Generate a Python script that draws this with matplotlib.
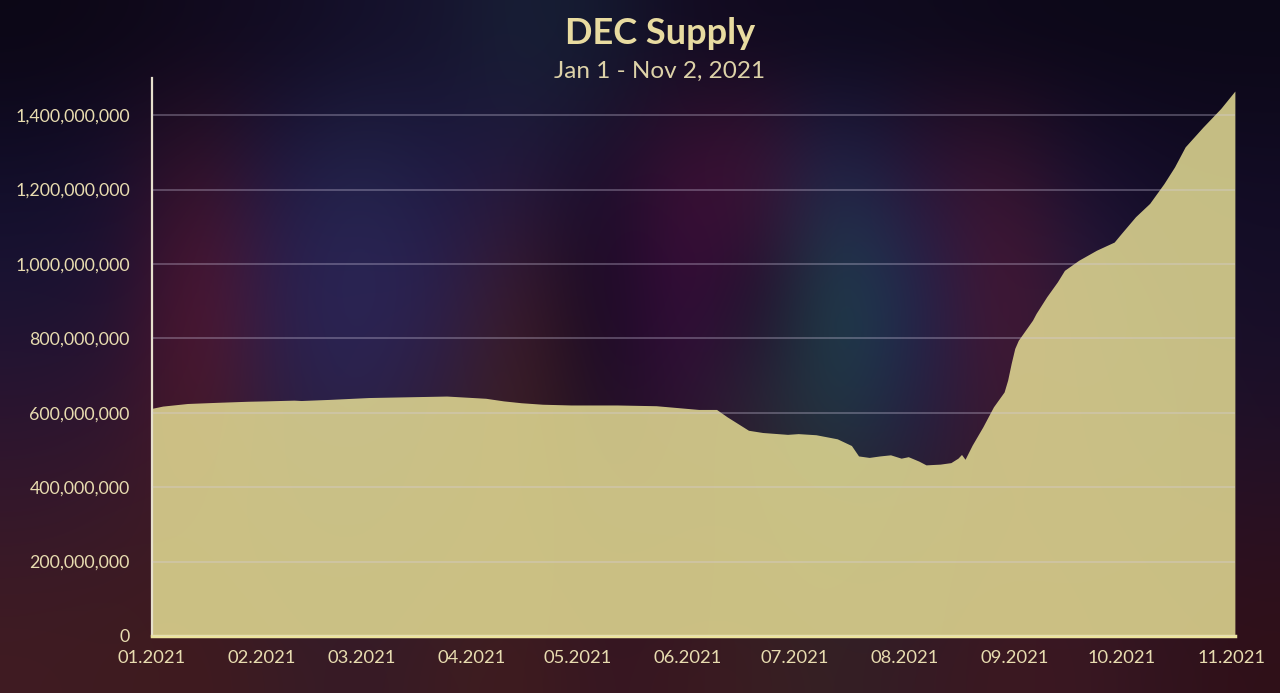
import numpy as np
import pandas as pd
import matplotlib
matplotlib.use("Agg")
import matplotlib.pyplot as plt
import matplotlib.dates as mdates
from matplotlib.ticker import FuncFormatter, MultipleLocator

# ---- data ----
day_offset = [0, 3, 10, 18, 27, 32, 40, 42, 50, 61, 72, 83, 94, 99, 104, 110, 118,
              131, 142, 154, 159, 162, 165, 168, 172, 179, 182, 187, 193, 197, 199,
              202, 205, 208, 211, 213, 216, 218, 222, 225, 227, 228, 229, 231, 234,
              237, 240, 241, 242, 243, 244, 248, 249, 252, 255, 257, 261, 266, 271,
              273, 277, 281, 285, 288, 291, 296, 301, 305]
supply_millions = [612, 618, 625, 628, 631, 632, 634, 633, 636, 641, 643, 645, 639, 632,
                   627, 623, 621, 621, 619, 609, 609, 589, 571, 553, 547, 542, 544, 541,
                   530, 512, 484, 480, 484, 487, 478, 482, 470, 460, 462, 466, 478, 488,
                   475, 513, 562, 616, 656, 688, 733, 773, 795, 849, 867, 912, 952, 983,
                   1010, 1037, 1059, 1082, 1127, 1163, 1216, 1261, 1315, 1368, 1418, 1465]
month_ticks = ["2021-01-01", "2021-02-01", "2021-03-01", "2021-04-01", "2021-05-01",
               "2021-06-01", "2021-07-01", "2021-08-01", "2021-09-01", "2021-10-01",
               "2021-11-01"]
title_text = "DEC Supply"
subtitle_text = "Jan 1 - Nov 2, 2021"

dates = pd.Timestamp("2021-01-01") + pd.to_timedelta(day_offset, unit="D")
values = np.array(supply_millions) * 1e6

fig = plt.figure(figsize=(12.8, 6.93), dpi=100)

# ---- decorative blurred background ----
bg_rows = [
    ["#0c0716", "#0e0818", "#100a1e", "#120c22", "#14102a", "#16142e", "#182036", "#141a30", "#120c22", "#100a1e", "#0e0a1e", "#0e0a1c", "#0c081a", "#0c0818", "#0c0818", "#0c0818"],
    ["#120e2a", "#1a1030", "#3a1228", "#201a44", "#24264c", "#1e1a44", "#241840", "#1c0e2c", "#3e1034", "#46163a", "#1e2650", "#301438", "#3a1530", "#1a1030", "#140c28", "#120c24"],
    ["#1a1434", "#201232", "#581530", "#2a2050", "#2c2658", "#2a2050", "#3e1a2a", "#140822", "#3a0c3e", "#1a0a26", "#20484e", "#1e2250", "#4c1530", "#2a1a3c", "#181230", "#160e28"],
    ["#2a1430", "#301530", "#501828", "#2a1e44", "#2a2450", "#301c3c", "#402020", "#1c0e26", "#301034", "#2a2838", "#1e3a48", "#221e44", "#401830", "#301a34", "#201430", "#1e1028"],
    ["#36182a", "#3a1a28", "#3c1a24", "#301c30", "#2c1c34", "#34202a", "#3a2024", "#2a1426", "#2e1424", "#2e2026", "#2a2630", "#2a1c30", "#381828", "#34182a", "#2c1428", "#2a1022"],
    ["#401c22", "#3e1c20", "#401a1e", "#3a1c24", "#361a26", "#3c1c22", "#401c1e", "#361622", "#3a1820", "#3a1e22", "#342024", "#361a24", "#3c1820", "#3a1822", "#32141e", "#301018"],
]
bg = np.array([[matplotlib.colors.to_rgb(c) for c in row] for row in bg_rows])
bg_ax = fig.add_axes([0, 0, 1, 1], zorder=-10)
bg_ax.imshow(bg, aspect="auto", interpolation="bicubic", extent=[0, 1, 0, 1])
bg_ax.set_axis_off()

# ---- chart ----
ax = fig.add_axes([0.11875, 0.0823, 0.846, 0.8051])
ax.patch.set_alpha(0)
ax.fill_between(dates, values, 0, color="#e4dc94", alpha=0.86, linewidth=0, zorder=2)
ax.set_xlim(pd.Timestamp("2021-01-01"), pd.Timestamp("2021-11-02"))
ax.set_ylim(0, 1.5e9)

ax.yaxis.set_major_locator(MultipleLocator(2e8))
ax.yaxis.set_major_formatter(FuncFormatter(lambda v, p: f"{int(round(v)):,}"))
ax.set_xticks(pd.to_datetime(month_ticks))
ax.xaxis.set_major_formatter(mdates.DateFormatter("%m.%Y"))

ax.grid(axis="y", color="#d8d0e8", alpha=0.35, linewidth=1.2, zorder=3)
ax.grid(axis="x", visible=False)
ax.set_axisbelow(False)

for s in ["top", "right"]:
    ax.spines[s].set_visible(False)
ax.spines["left"].set_color("#e6e0cc")
ax.spines["left"].set_linewidth(1.6)
ax.spines["bottom"].set_color("#ece49e")
ax.spines["bottom"].set_linewidth(2.5)

ax.tick_params(axis="both", length=0, labelcolor="#e8dcb0", labelsize=12.8)
ax.tick_params(axis="x", pad=10, labelsize=13.2)
ax.tick_params(axis="y", pad=16)
for lab in ax.get_xticklabels() + ax.get_yticklabels():
    lab.set_fontfamily("Lato")

fig.text(0.5156, 0.952, title_text, ha="center", va="center", fontsize=26,
         fontweight="bold", color="#e8dba0", family="Lato")
fig.text(0.5156, 0.897, subtitle_text, ha="center", va="center", fontsize=17.5,
         color="#ddd2a8", family="Lato")

fig.savefig("out.png", dpi=100)
